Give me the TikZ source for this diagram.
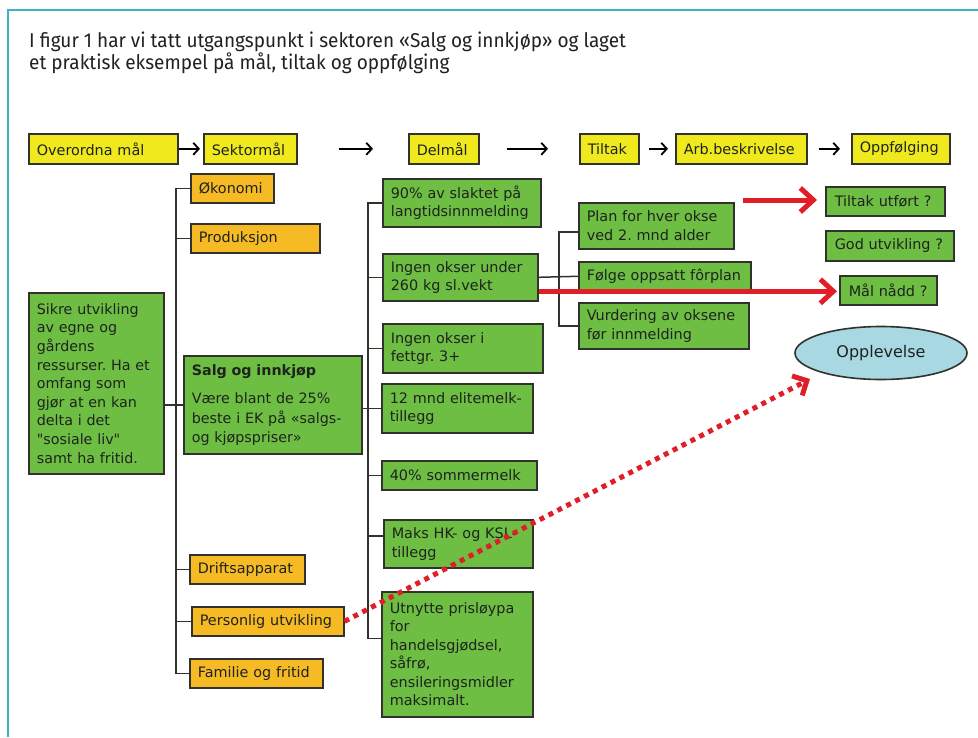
\documentclass[tikz,border=0pt]{standalone}
\usepackage{fontspec}
\usetikzlibrary{arrows.meta,shapes.geometric}
\newfontfamily\boxf{DejaVu Sans}
\newfontfamily\headf[FakeStretch=0.95]{Fira Sans}
\newcommand\nohyph{\hyphenpenalty=10000\relax}
\definecolor{yel}{RGB}{240,233,30}
\definecolor{ora}{RGB}{246,186,36}
\definecolor{grn}{RGB}{110,190,68}
\definecolor{bdr}{RGB}{50,50,45}
\definecolor{txt}{RGB}{30,35,30}
\definecolor{ell}{RGB}{168,216,226}
\definecolor{rd}{RGB}{225,30,40}
\definecolor{tl}{RGB}{60,180,195}
\tikzset{
  base/.style={draw=bdr, line width=1.6pt, anchor=north west, inner xsep=8pt, inner ysep=0pt,
    align=left, text=txt, font=\boxf\fontsize{14.4}{18.5}\selectfont\nohyph},
  ybox/.style={base, fill=yel},
  obox/.style={base, fill=ora},
  gbox/.style={base, fill=grn},
  wh/.style 2 args={text width=#1, minimum height=#2},
  harr/.style={draw=black, line width=1.7pt, -{Straight Barb[length=5.5pt,width=12pt,line width=1.8pt]}},
  trunk/.style={draw=bdr, line width=1.5pt},
  rarr/.style={draw=rd, line width=5pt, -{Straight Barb[length=13pt,width=24pt,line width=5pt]}},
  rdot/.style={draw=rd, line width=5pt, dash pattern=on 5pt off 5pt, -{Straight Barb[length=11pt,width=22pt,line width=5pt]}}
}
\begin{document}
\frenchspacing
\begin{tikzpicture}[x=1pt,y=-1pt]
\useasboundingbox (0,0) rectangle (978,737);
\fill[white] (0,0) rectangle (978,737);
\draw[tl, line width=1.5pt] (8,737) -- (8,10) -- (978,10);
\node[anchor=north west, align=left, inner sep=0pt, text=txt, font=\headf\fontsize{20}{20.5}\selectfont] (head) at (29,31.5)
  {I figur 1 har vi tatt utgangspunkt i sektoren «Salg og innkjøp» og laget\\et praktisk eksempel på mål, tiltak og oppfølging};

% header row
\node[ybox, wh={133pt}{30pt}] (ov) at (28,133) {Overordna mål};
\node[ybox, wh={77pt}{30pt}] (sek) at (203,133) {Sektormål};
\node[ybox, wh={54pt}{30pt}] (del) at (408,133) {Delmål};
\node[ybox, wh={43pt}{30pt}] (tilt) at (579,133) {Tiltak};
\node[ybox, wh={115pt}{30pt}] (arb) at (675,133) {Arb.beskrivelse};
\node[ybox, wh={82pt}{30pt}] (opp) at (851,133) {Oppfølging};
\draw[harr, shorten >=3pt] (ov.east) -- (sek.west);
\draw[harr, shorten <=41pt, shorten >=35pt] (sek.east) -- (del.west);
\draw[harr, shorten <=27pt, shorten >=31pt] (del.east) -- (tilt.west);
\draw[harr, shorten <=9pt, shorten >=7pt] (tilt.east) -- (arb.west);
\draw[harr, shorten <=11pt, shorten >=11pt] (arb.east) -- (opp.west);

% sector column
\node[obox, wh={67pt}{29pt}] (oko) at (190,173) {Økonomi};
\node[obox, wh={113pt}{29pt}] (prod) at (190,223) {Produksjon};
\node[obox, wh={99pt}{29pt}] (drift) at (189,554) {Driftsapparat};
\node[obox, wh={136pt}{29pt}] (pers) at (191,606) {Personlig utvikling};
\node[obox, wh={117pt}{29pt}] (fam) at (189,658) {Familie og fritid};
\coordinate (t1) at (176,0);

\node[gbox, wh={119pt}{181pt}, font=\boxf\fontsize{14.3}{18.6}\selectfont\nohyph] (sikre) at (28,292)
  {Sikre utvikling\\av egne og\\gårdens\\ressurser. Ha et\\omfang som\\gjør at en kan\\delta i det\\"sosiale liv"\\samt ha fritid.};
\node[gbox, wh={162pt}{98pt}, font=\boxf\fontsize{14.3}{19.5}\selectfont\nohyph] (salg) at (183,355)
  {\textbf{Salg og innkjøp}\\[9pt]Være blant de 25\%\\beste i EK på «salgs-\\og kjøpspriser»};

% delmål column
\node[gbox, wh={142pt}{48pt}] (g90) at (382,178) {90\% av slaktet på\\langtidsinnmelding};
\node[gbox, wh={139pt}{47pt}] (ingen) at (382,253) {Ingen okser under\\260 kg sl.vekt};
\node[gbox, wh={144pt}{49pt}] (fett) at (382,323) {Ingen okser i\\fettgr. 3+};
\node[gbox, wh={135pt}{49pt}] (m12) at (381,383) {12 mnd elitemelk-\\tillegg};
\node[gbox, wh={139pt}{29pt}] (s40) at (381,460) {40\% sommermelk};
\node[gbox, wh={133pt}{48pt}] (maks) at (383,519) {Maks HK- og KSL-\\tillegg};
\node[gbox, wh={135pt}{125pt}] (utn) at (381,591) {Utnytte prisløypa\\for\\handelsgjødsel,\\såfrø,\\ensileringsmidler\\maksimalt.};
\coordinate (t2) at (368,0);

% tiltak column
\node[gbox, wh={139pt}{46pt}] (plan) at (578,202) {Plan for hver okse\\ved 2. mnd alder};
\node[gbox, wh={156pt}{29pt}] (folge) at (578,261) {Følge oppsatt fôrplan};
\node[gbox, wh={154pt}{46pt}] (vurd) at (578,302) {Vurdering av oksene\\før innmelding};
\coordinate (t3) at (559,0);

% oppfølging column
\node[gbox, wh={101pt}{29pt}, inner xsep=9pt] (utf) at (825,186) {Tiltak utført ?};
\node[gbox, wh={110pt}{30pt}, inner xsep=9pt] (god) at (825,230) {God utvikling ?};
\node[gbox, wh={79pt}{29pt}, inner xsep=9pt] (maal) at (839,275) {Mål nådd ?};
\node[ellipse, draw=bdr, line width=1.6pt, fill=ell, minimum width=172pt, minimum height=53pt, inner sep=0pt,
  text=txt, font=\boxf\fontsize{16}{18}\selectfont] (opl) at (881,353) {Opplevelse};

% trees
\draw[trunk] (oko.west) -- (oko.west -| t1) -- (fam.west -| t1) -- (fam.west);
\draw[trunk] (prod.west) -- (prod.west -| t1);
\draw[trunk] (drift.west) -- (drift.west -| t1);
\draw[trunk] (pers.west) -- (pers.west -| t1);
\draw[trunk] (sikre.east |- salg.west) -- (salg.west);

\draw[trunk] (g90.west) -- (g90.west -| t2) -- ([yshift=16pt]utn.west -| t2) -- ([yshift=16pt]utn.west);
\draw[trunk] (ingen.west) -- (ingen.west -| t2);
\draw[trunk] (fett.west) -- (fett.west -| t2);
\draw[trunk] (m12.west) -- (m12.west -| t2);
\draw[trunk] (s40.west) -- (s40.west -| t2);
\draw[trunk] ([yshift=8pt]maks.west) -- ([yshift=8pt]maks.west -| t2);
\draw[trunk] (salg.east |- m12.west) -- (m12.west -| t2);

\draw[trunk] ([yshift=-6pt]plan.west) -- ([yshift=-6pt]plan.west -| t3) -- (vurd.west -| t3) -- (vurd.west);
\draw[trunk] (ingen.east) -- (folge.west);

% red arrows
\coordinate (r1s) at (743,200);
\draw[rarr] (r1s) -- ([xshift=-8pt]utf.west |- r1s);
\draw[rarr, shorten >=2pt] ([yshift=-14pt]ingen.east) -- ([yshift=-14pt]ingen.east -| maal.west);
\coordinate (dtip) at (810,379);
\draw[rdot] (pers.east) -- (dtip);
\end{tikzpicture}
\end{document}
